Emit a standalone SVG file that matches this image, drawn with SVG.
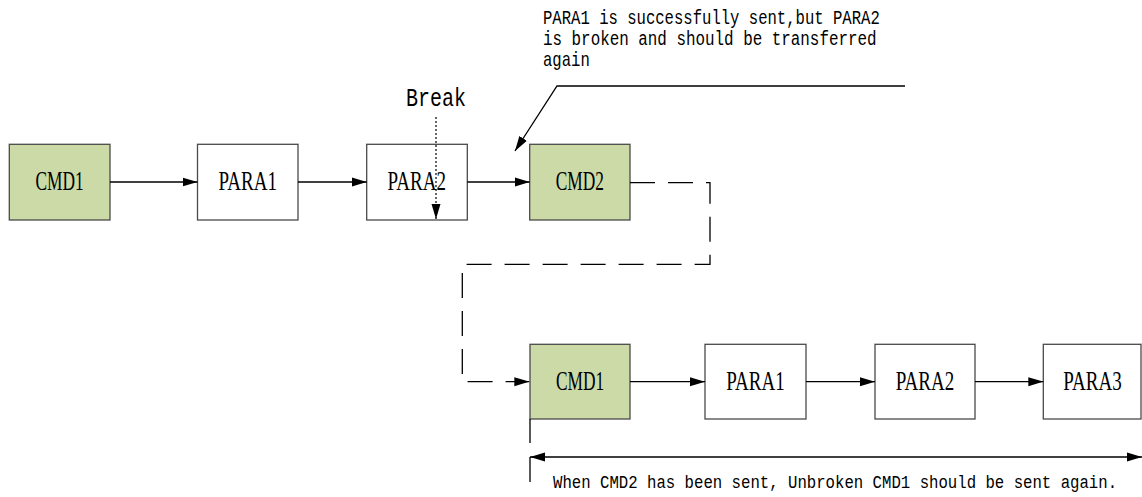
<svg xmlns="http://www.w3.org/2000/svg" width="1142" height="497" viewBox="0 0 1142 497">
<style>
.box{stroke:#4a4a4a;stroke-width:1.3}
.cmd{fill:#cbdaa7}
.para{fill:#ffffff}
.lbl{font-family:"Liberation Serif","Times New Roman",serif;font-size:28px;text-anchor:middle;fill:#000}
.note{font-family:"Liberation Mono","Courier New",monospace;font-size:20px;fill:#000}
.ln{fill:none;stroke:#000;stroke-width:1.3}
.dash{stroke-dasharray:25 13}
.dot{stroke-dasharray:2 2;stroke-width:1.2}
</style>
<defs>
<marker id="ah" markerUnits="userSpaceOnUse" markerWidth="15" markerHeight="10" refX="15" refY="5" orient="auto-start-reverse" viewBox="0 0 15 10">
<path d="M0,0.5 L15,5 L0,9.5 z" fill="#000"/>
</marker>
</defs>
<rect width="1142" height="497" fill="#ffffff"/>
<g id="cmd1-top">
<rect class="box cmd" x="9.3" y="144.3" width="100.7" height="75.7"/>
<text class="lbl" transform="translate(59.5,190) scale(0.62,1)">CMD1</text>
</g>
<g id="para1-top">
<rect class="box para" x="197.5" y="144.3" width="100.5" height="75.7"/>
<text class="lbl" transform="translate(247.8,190) scale(0.68,1)">PARA1</text>
</g>
<g id="para2-top">
<rect class="box para" x="366.7" y="144.3" width="100.6" height="75.7"/>
<text class="lbl" transform="translate(416.8,190) scale(0.68,1)">PARA2</text>
</g>
<g id="cmd2-top">
<rect class="box cmd" x="529.7" y="144.3" width="100.3" height="75.7"/>
<text class="lbl" transform="translate(579.8,190) scale(0.62,1)">CMD2</text>
</g>
<g id="cmd1-bottom">
<rect class="box cmd" x="530" y="344.3" width="100" height="74.7"/>
<text class="lbl" transform="translate(580,389.5) scale(0.62,1)">CMD1</text>
</g>
<g id="para1-bottom">
<rect class="box para" x="705" y="344.3" width="101" height="74.7"/>
<text class="lbl" transform="translate(755.5,389.5) scale(0.68,1)">PARA1</text>
</g>
<g id="para2-bottom">
<rect class="box para" x="875" y="344.3" width="100" height="74.7"/>
<text class="lbl" transform="translate(925,389.5) scale(0.68,1)">PARA2</text>
</g>
<g id="para3-bottom">
<rect class="box para" x="1043.3" y="344.3" width="97.7" height="74.7"/>
<text class="lbl" transform="translate(1092.5,389.5) scale(0.68,1)">PARA3</text>
</g>
<g id="connectors">
<path class="ln" d="M110,182 H197.5" marker-end="url(#ah)"/>
<path class="ln" d="M298,182 H366.7" marker-end="url(#ah)"/>
<path class="ln" d="M467.3,182 H529.7" marker-end="url(#ah)"/>
<path class="ln dash" d="M630,182.7 H710 V264.3 H462.3 V381.7 H529.3" marker-end="url(#ah)"/>
<path class="ln" d="M630,381.7 H705" marker-end="url(#ah)"/>
<path class="ln" d="M806,381.7 H875" marker-end="url(#ah)"/>
<path class="ln" d="M975,381.7 H1043.3" marker-end="url(#ah)"/>
<path class="ln dot" d="M436,117 V219" marker-end="url(#ah)"/>
<path class="ln" d="M905,86 H557 L515,151" marker-end="url(#ah)"/>
<path class="ln" d="M530,419 V443 M530,457 V482"/>
<path class="ln" d="M530,457 H1142" marker-start="url(#ah)" marker-end="url(#ah)"/>
</g>
<g id="break-label">
<text class="note" style="font-size:25px" transform="translate(406,106) scale(0.8,1)">Break</text>
</g>
<g id="note-top">
<text class="note" transform="translate(543,24) scale(0.78,1)">PARA1 is successfully sent,but PARA2</text>
<text class="note" transform="translate(543,45) scale(0.795,1)">is broken and should be transferred</text>
<text class="note" transform="translate(543,66) scale(0.78,1)">again</text>
</g>
<g id="note-bottom">
<text class="note" style="font-size:19px" transform="translate(553,487.5) scale(0.825,1)">When CMD2 has been sent, Unbroken CMD1 should be sent again.</text>
</g>
</svg>
